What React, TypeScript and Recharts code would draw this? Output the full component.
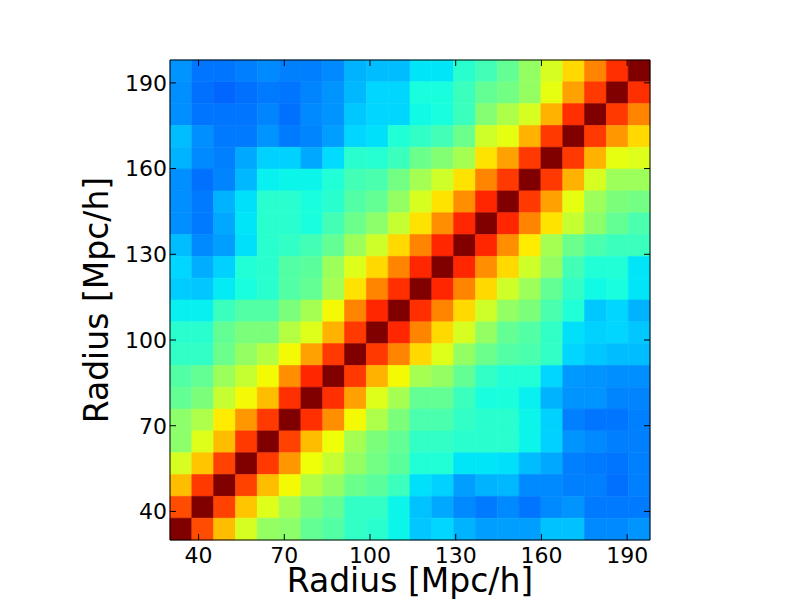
import { ReferenceArea, Scatter, ScatterChart, XAxis, YAxis } from "recharts";

const RADIUS_MIN = 30;
const RADIUS_MAX = 198;
const AXIS_TICKS = [40, 70, 100, 130, 160, 190];
const AXIS_TITLE = "Radius [Mpc/h]";

// colour-map position (0..1, jet) of each cell, rows as they appear: top row (largest radius) first
const ROWS = [
  [0.27, 0.24, 0.24, 0.25, 0.26, 0.25, 0.25, 0.26, 0.30, 0.31, 0.31, 0.35, 0.35, 0.40, 0.43, 0.47, 0.53, 0.61, 0.68, 0.77, 0.86, 1],
  [0.265, 0.235, 0.225, 0.235, 0.245, 0.24, 0.255, 0.27, 0.305, 0.335, 0.335, 0.38, 0.38, 0.42, 0.47, 0.49, 0.53, 0.63, 0.74, 0.85, 1, 0.86],
  [0.265, 0.24, 0.24, 0.24, 0.255, 0.235, 0.26, 0.27, 0.32, 0.335, 0.335, 0.37, 0.38, 0.42, 0.51, 0.56, 0.61, 0.72, 0.86, 1, 0.85, 0.77],
  [0.31, 0.265, 0.245, 0.245, 0.27, 0.245, 0.255, 0.28, 0.335, 0.345, 0.39, 0.41, 0.43, 0.48, 0.60, 0.63, 0.72, 0.85, 1, 0.85, 0.75, 0.68],
  [0.30, 0.26, 0.25, 0.29, 0.33, 0.33, 0.29, 0.34, 0.40, 0.395, 0.42, 0.48, 0.51, 0.55, 0.67, 0.74, 0.85, 1, 0.85, 0.72, 0.63, 0.62],
  [0.265, 0.235, 0.255, 0.305, 0.36, 0.365, 0.365, 0.39, 0.43, 0.44, 0.49, 0.55, 0.60, 0.67, 0.77, 0.85, 1, 0.85, 0.72, 0.61, 0.54, 0.54],
  [0.265, 0.245, 0.30, 0.345, 0.40, 0.40, 0.38, 0.40, 0.45, 0.47, 0.53, 0.61, 0.67, 0.76, 0.87, 1, 0.85, 0.74, 0.63, 0.54, 0.50, 0.49],
  [0.265, 0.245, 0.29, 0.35, 0.40, 0.40, 0.38, 0.43, 0.48, 0.52, 0.59, 0.67, 0.76, 0.87, 1, 0.87, 0.77, 0.67, 0.59, 0.52, 0.47, 0.44],
  [0.31, 0.26, 0.28, 0.345, 0.40, 0.41, 0.43, 0.47, 0.54, 0.60, 0.68, 0.77, 0.87, 1, 0.87, 0.76, 0.66, 0.55, 0.48, 0.44, 0.42, 0.42],
  [0.335, 0.295, 0.33, 0.39, 0.40, 0.45, 0.46, 0.54, 0.62, 0.68, 0.77, 0.87, 1, 0.87, 0.76, 0.68, 0.60, 0.53, 0.43, 0.39, 0.39, 0.35],
  [0.325, 0.32, 0.355, 0.38, 0.40, 0.45, 0.47, 0.55, 0.67, 0.77, 0.86, 1, 0.87, 0.77, 0.68, 0.60, 0.54, 0.47, 0.41, 0.37, 0.38, 0.35],
  [0.36, 0.36, 0.42, 0.45, 0.45, 0.50, 0.55, 0.645, 0.77, 0.87, 1, 0.86, 0.77, 0.68, 0.60, 0.53, 0.50, 0.44, 0.39, 0.32, 0.335, 0.30],
  [0.40, 0.40, 0.47, 0.50, 0.50, 0.57, 0.62, 0.72, 0.85, 1, 0.87, 0.77, 0.68, 0.61, 0.53, 0.47, 0.45, 0.41, 0.345, 0.33, 0.335, 0.32],
  [0.41, 0.41, 0.48, 0.53, 0.57, 0.645, 0.74, 0.85, 1, 0.85, 0.77, 0.68, 0.62, 0.53, 0.48, 0.45, 0.44, 0.41, 0.335, 0.32, 0.31, 0.31],
  [0.45, 0.47, 0.54, 0.59, 0.645, 0.76, 0.87, 1, 0.85, 0.72, 0.645, 0.55, 0.53, 0.47, 0.41, 0.39, 0.39, 0.335, 0.275, 0.27, 0.265, 0.265],
  [0.47, 0.50, 0.59, 0.645, 0.71, 0.86, 1, 0.86, 0.74, 0.62, 0.55, 0.47, 0.47, 0.42, 0.38, 0.38, 0.36, 0.30, 0.27, 0.27, 0.255, 0.255],
  [0.52, 0.56, 0.66, 0.75, 0.85, 1, 0.86, 0.76, 0.645, 0.56, 0.50, 0.44, 0.44, 0.41, 0.40, 0.40, 0.365, 0.33, 0.25, 0.24, 0.24, 0.25],
  [0.52, 0.62, 0.71, 0.85, 1, 0.84, 0.71, 0.64, 0.55, 0.50, 0.47, 0.41, 0.41, 0.40, 0.40, 0.40, 0.365, 0.33, 0.27, 0.26, 0.25, 0.25],
  [0.61, 0.70, 0.84, 1, 0.85, 0.75, 0.64, 0.59, 0.53, 0.49, 0.46, 0.39, 0.39, 0.35, 0.35, 0.345, 0.31, 0.29, 0.25, 0.245, 0.24, 0.25],
  [0.71, 0.85, 1, 0.84, 0.71, 0.645, 0.57, 0.53, 0.48, 0.46, 0.42, 0.345, 0.33, 0.28, 0.30, 0.305, 0.26, 0.26, 0.25, 0.25, 0.235, 0.25],
  [0.83, 1, 0.84, 0.70, 0.62, 0.55, 0.50, 0.47, 0.41, 0.41, 0.365, 0.315, 0.29, 0.26, 0.245, 0.26, 0.24, 0.26, 0.27, 0.245, 0.245, 0.245],
  [1, 0.83, 0.71, 0.61, 0.53, 0.52, 0.47, 0.45, 0.41, 0.40, 0.365, 0.32, 0.335, 0.30, 0.28, 0.28, 0.28, 0.315, 0.315, 0.26, 0.26, 0.27],
];

const N = ROWS.length;
const BIN = (RADIUS_MAX - RADIUS_MIN) / N;

// matplotlib "jet" segment data
const JET_R = [[0, 0], [0.35, 0], [0.66, 1], [0.89, 1], [1, 0.5]];
const JET_G = [[0, 0], [0.125, 0], [0.375, 1], [0.64, 1], [0.91, 0], [1, 0]];
const JET_B = [[0, 0.5], [0.11, 1], [0.34, 1], [0.65, 0], [1, 0]];

function seg(points: number[][], v: number) {
  for (let k = 1; k < points.length; k++) {
    const [x0, y0] = points[k - 1];
    const [x1, y1] = points[k];
    if (v <= x1) return y0 + ((v - x0) / (x1 - x0)) * (y1 - y0);
  }
  return points[points.length - 1][1];
}

function jet(v: number) {
  const c = (p: number[][]) => Math.round(seg(p, Math.min(1, Math.max(0, v))) * 255);
  return `rgb(${c(JET_R)},${c(JET_G)},${c(JET_B)})`;
}

const cells = ROWS.flatMap((row, r) =>
  row.map((v, c) => {
    const yi = N - 1 - r;
    return {
      key: `${r}-${c}`,
      x1: RADIUS_MIN + c * BIN,
      x2: RADIUS_MIN + (c + 1) * BIN,
      y1: RADIUS_MIN + yi * BIN,
      y2: RADIUS_MIN + (yi + 1) * BIN,
      fill: jet(v),
    };
  })
);

const FONT = "DejaVu Sans";
const TICK_LEN = 6;
const LEFT_GAP = 3;
const BOTTOM_GAP = 7;

function LeftTick({ x, y, payload }: any) {
  return (
    <g>
      <line x1={x + LEFT_GAP} x2={x + LEFT_GAP + TICK_LEN} y1={y} y2={y} stroke="#000" />
      <text x={x} y={y} dy="0.36em" textAnchor="end" fontSize={22} fontFamily={FONT} fill="#000">
        {payload.value}
      </text>
    </g>
  );
}

function BottomTick({ x, y, payload }: any) {
  return (
    <g>
      <line x1={x} x2={x} y1={y - BOTTOM_GAP} y2={y - BOTTOM_GAP - TICK_LEN} stroke="#000" />
      <text x={x} y={y} dy="0.73em" textAnchor="middle" fontSize={22} fontFamily={FONT} fill="#000">
        {payload.value}
      </text>
    </g>
  );
}

function TopTick({ x, y }: any) {
  return <line x1={x} x2={x} y1={y} y2={y + TICK_LEN} stroke="#000" />;
}

function RightTick({ x, y }: any) {
  return <line x1={x} x2={x - TICK_LEN} y1={y} y2={y} stroke="#000" />;
}

export default function App() {
  const domain: [number, number] = [RADIUS_MIN, RADIUS_MAX];
  return (
    <div style={{ position: "absolute", left: 0, top: 0, width: 800, height: 600, background: "#fff" }}>
      <ScatterChart
        width={800}
        height={600}
        margin={{ top: 50, right: 140, bottom: 0, left: 80 }}
        style={{ fontFamily: FONT }}
      >
        <XAxis
          type="number"
          dataKey="x"
          domain={domain}
          ticks={AXIS_TICKS}
          interval={0}
          allowDataOverflow
          height={60}
          tickSize={0}
          tickMargin={BOTTOM_GAP}
          tick={<BottomTick />}
          axisLine={{ stroke: "#000" }}
          label={{ value: AXIS_TITLE, position: "insideBottom", offset: 8, fontSize: 33, fill: "#000", fontFamily: FONT }}
        />
        <XAxis
          xAxisId="top"
          orientation="top"
          type="number"
          dataKey="x"
          domain={domain}
          ticks={AXIS_TICKS}
          interval={0}
          allowDataOverflow
          height={10}
          tickSize={0}
          tickMargin={0}
          tick={<TopTick />}
          axisLine={{ stroke: "#000" }}
        />
        <YAxis
          type="number"
          dataKey="y"
          domain={domain}
          ticks={AXIS_TICKS}
          interval={0}
          allowDataOverflow
          width={90}
          tickSize={0}
          tickMargin={LEFT_GAP}
          tick={<LeftTick />}
          axisLine={{ stroke: "#000" }}
          label={{
            value: AXIS_TITLE,
            angle: -90,
            position: "insideLeft",
            offset: 16,
            fontSize: 33,
            fill: "#000",
            fontFamily: FONT,
            style: { textAnchor: "middle" },
          }}
        />
        <YAxis
          yAxisId="right"
          orientation="right"
          type="number"
          dataKey="y"
          domain={domain}
          ticks={AXIS_TICKS}
          interval={0}
          allowDataOverflow
          width={10}
          tickSize={0}
          tickMargin={0}
          tick={<RightTick />}
          axisLine={{ stroke: "#000" }}
        />
        {cells.map((c) => (
          <ReferenceArea
            key={c.key}
            x1={c.x1}
            x2={c.x2}
            y1={c.y1}
            y2={c.y2}
            fill={c.fill}
            fillOpacity={1}
            stroke={c.fill}
            strokeWidth={0.6}
            ifOverflow="visible"
          />
        ))}
        <Scatter data={[]} isAnimationActive={false} />
      </ScatterChart>
    </div>
  );
}
